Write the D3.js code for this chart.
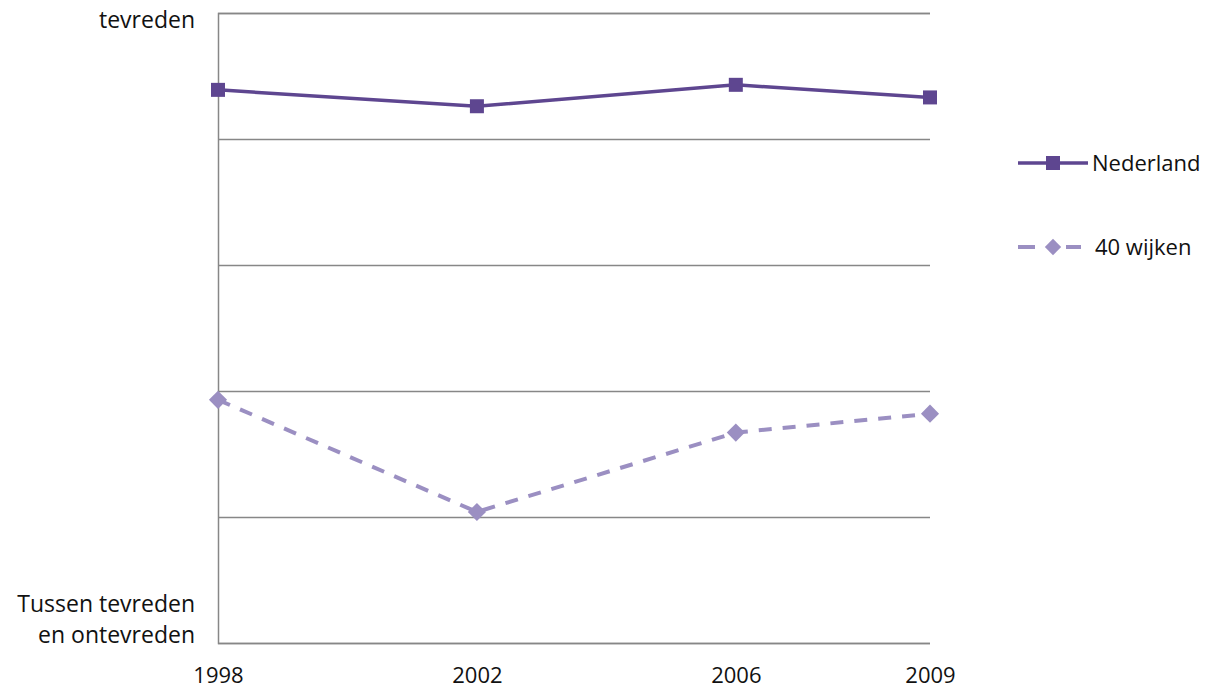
<!DOCTYPE html>
<html>
<head>
<meta charset="utf-8">
<script src="https://cdn.jsdelivr.net/npm/d3@7"></script>
<style>
  body { margin: 0; background: #fff; }
  text { font-family: "Open Sans", "Noto Sans", sans-serif; fill: #111; }
</style>
</head>
<body>
<script>
// DATA
const years = [1998, 2002, 2006, 2009];
const nederland = [3.878, 3.852, 3.886, 3.866];
const wijken = [3.386, 3.208, 3.334, 3.364];
const yTicks = [3.0, 3.2, 3.4, 3.6, 3.8, 4.0];
const yLabels = [{v: 4.0, lines: ["tevreden"]}, {v: 3.0, lines: ["Tussen tevreden", "en ontevreden"]}];
const seriesNames = ["Nederland", "40 wijken"];

// SIZES
const margin = {top: 13, right: 280, bottom: 51, left: 218};
const width = 1210 - margin.left - margin.right;
const height = 694 - margin.top - margin.bottom;

const svg = d3.select("body").append("svg")
  .attr("width", 1210)
  .attr("height", 694)
  .append("g")
  .attr("transform", `translate(${margin.left},${margin.top})`);

const x = d3.scaleLinear().domain([1998, 2009]).range([0, width]);
const y = d3.scaleLinear().domain([3, 4]).range([height, 0]);

// GRID
const grid = svg.append("g")
  .call(d3.axisLeft(y).tickValues(yTicks).tickSize(-width).tickFormat(""));
grid.selectAll("line").attr("stroke", "#878787").attr("stroke-width", 1.5);
grid.select(".domain").attr("stroke", "#878787").attr("stroke-width", 1.5);

// Y LABELS
yLabels.forEach(function(l) {
  const n = l.lines.length;
  const t = svg.append("text")
    .attr("text-anchor", "end")
    .style("font-size", "23px");
  l.lines.forEach(function(s, i) {
    t.append("tspan")
      .attr("x", -23)
      .attr("y", n > 1 ? y(l.v) - (n - 1 - i) * 31 : y(l.v) + 15)
      .text(s);
  });
});

// X AXIS
const xAxis = svg.append("g")
  .attr("transform", `translate(0,${height})`)
  .call(d3.axisBottom(x).tickValues(years).tickSize(0).tickFormat(d3.format("d")));
xAxis.select(".domain").remove();
xAxis.selectAll("text")
  .attr("y", 40).attr("dy", 0)
  .style("font-size", "22px")
  .style("font-family", "'Open Sans', sans-serif")
  .attr("fill", "#111");

// LINES
const c1 = "#5e4690";
const c2 = "#9b8fc2";
const line = d3.line().x((d, i) => x(years[i])).y(d => y(d));

svg.append("path")
  .datum(nederland)
  .attr("fill", "none")
  .attr("stroke", c1)
  .attr("stroke-width", 3.5)
  .attr("d", line);

svg.append("path")
  .datum(wijken)
  .attr("fill", "none")
  .attr("stroke", c2)
  .attr("stroke-width", 4)
  .attr("stroke-dasharray", "13,11")
  .attr("d", line);

// MARKERS
svg.selectAll(".sq")
  .data(nederland)
  .enter().append("rect")
  .attr("x", (d, i) => x(years[i]) - 7)
  .attr("y", d => y(d) - 7)
  .attr("width", 14)
  .attr("height", 14)
  .attr("fill", c1);

const diamond = d3.symbol().type(d3.symbolDiamond2).size(210);
svg.selectAll(".dm")
  .data(wijken)
  .enter().append("path")
  .attr("d", diamond)
  .attr("transform", (d, i) => `translate(${x(years[i])},${y(d)})`)
  .attr("fill", c2);

// LEGEND
const lg = svg.append("g").attr("transform", `translate(${width + 88},0)`);
lg.append("line").attr("x1", 0).attr("x2", 70).attr("y1", 150).attr("y2", 150)
  .attr("stroke", c1).attr("stroke-width", 3.5);
lg.append("rect").attr("x", 28).attr("y", 143).attr("width", 14).attr("height", 14).attr("fill", c1);
lg.append("text").attr("x", 74).attr("y", 158).style("font-size", "22px").text(seriesNames[0]);

lg.append("line").attr("x1", 0).attr("x2", 17).attr("y1", 234).attr("y2", 234)
  .attr("stroke", c2).attr("stroke-width", 4);
lg.append("line").attr("x1", 48).attr("x2", 63).attr("y1", 234).attr("y2", 234)
  .attr("stroke", c2).attr("stroke-width", 4);
lg.append("path").attr("d", d3.symbol().type(d3.symbolDiamond2).size(170))
  .attr("transform", "translate(35,234)").attr("fill", c2);
lg.append("text").attr("x", 77).attr("y", 242).style("font-size", "22px").text(seriesNames[1]);
</script>
</body>
</html>
